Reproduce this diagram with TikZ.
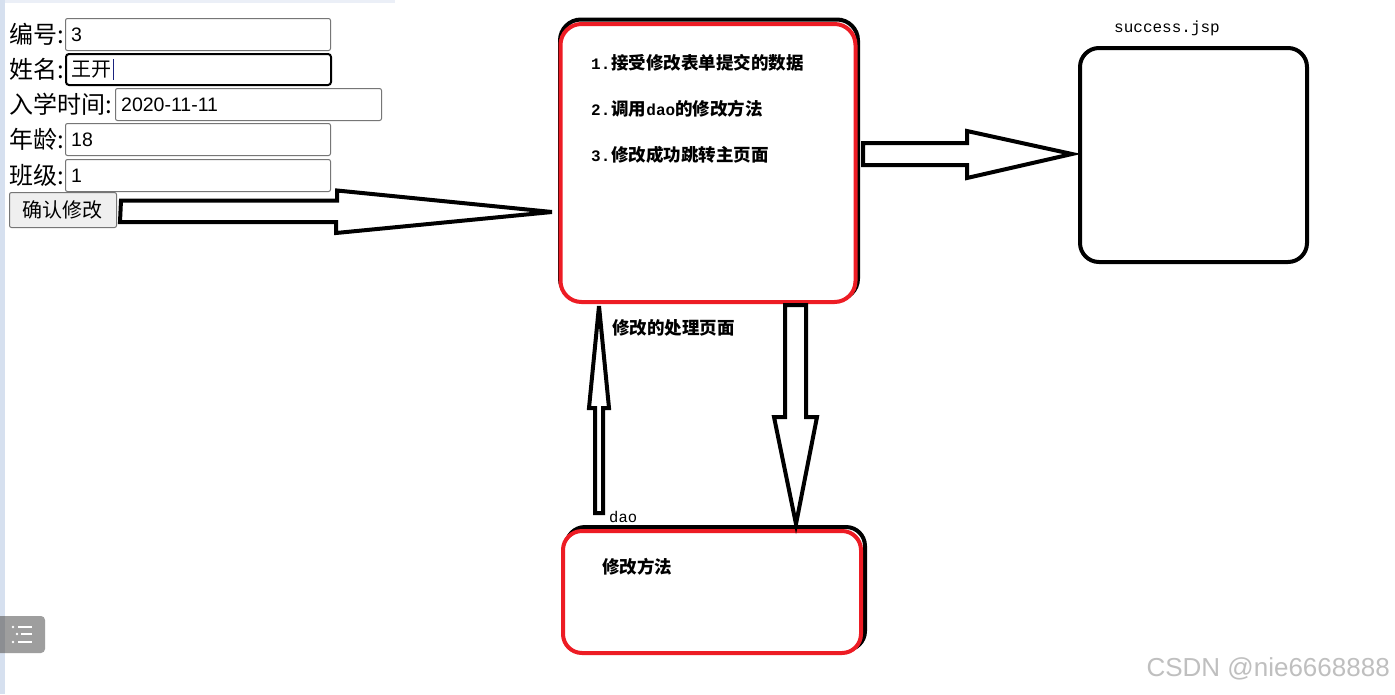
\documentclass[tikz,border=0pt]{standalone}
\usepackage{fontspec}
\setmainfont{Liberation Sans}
\newfontfamily\cjk{Noto Sans CJK SC}
\newfontfamily\monof{Liberation Mono}
\usepackage{tikz}
\usetikzlibrary{calc,positioning}
\definecolor{pntred}{HTML}{ED1C24}
\definecolor{fieldgrey}{HTML}{767676}
\definecolor{btnfill}{HTML}{EFEFEF}
\definecolor{stripblue}{HTML}{D6E0EF}
\definecolor{menugrey}{HTML}{9E9E9E}
\definecolor{caretblue}{HTML}{1A237E}

\begin{document}
\begin{tikzpicture}[x=1pt,y=-1pt,
  lbl/.style={anchor=west,inner sep=0,font=\cjk\fontsize{24}{28}\selectfont},
  field/.style={draw=fieldgrey,line width=1pt,rounded corners=2pt,fill=white,
    minimum height=32,inner sep=0,anchor=north west},
  valtxt/.style={inner sep=0,anchor=west,font=\fontsize{19.5}{23}\selectfont},
  roundbox/.style={draw=black,line width=4pt,rounded corners=21pt,fill=white,inner sep=0},
  boxtxt/.style={anchor=west,inner sep=0,font=\cjk\bfseries\fontsize{17.5}{20}\selectfont},
  monolbl/.style={anchor=west,inner sep=0,font=\monof\fontsize{16}{19}\selectfont},
  fatarrow/.style={draw=black,line width=4pt,fill=white,line join=miter}]
\fill[white] (0,0) rectangle (1395,694);
\useasboundingbox (0,0) rectangle (1395,694);
% browser frame
\fill[stripblue] (0,0) rectangle (5,694);
\fill[stripblue!50] (5,0) rectangle (395,3);
\fill[menugrey,rounded corners=4pt] (-6,616) rectangle (45,653);
\fill[menugrey!70!stripblue!80!black] (0,616) rectangle (5,653);
\foreach \yy/\xx in {627/13,634/17,642/13}
  \fill[white] (\xx,\yy) circle (1.4);
\foreach \yy/\xx in {627/18,634/21,642/18}
  \draw[white,line width=2.2pt] (\xx,\yy) -- (32,\yy);

% form
\node[lbl] (l1) at (9,34) {编号:};
\node[field,minimum width=265] (f1) at (65,18) {};
\node[valtxt,right=6pt of f1.west] (v1) {3};
\node[lbl] (l2) at (9,69) {姓名:};
\node[field,draw=black,line width=2pt,rounded corners=3pt,minimum width=265,minimum height=31] (f2) at (65,53) {};
\node[valtxt,font=\cjk\fontsize{20}{24}\selectfont,right=6pt of f2.west] (v2) {王开};
\draw[caretblue,line width=1pt] (113,59) -- (113,80);
\node[lbl] (l3) at (9,104) {入学时间:};
\node[field,minimum width=266] (f3) at (115,88) {};
\node[valtxt,right=6pt of f3.west] (v3) {2020-11-11};
\node[lbl] (l4) at (9,139) {年龄:};
\node[field,minimum width=265] (f4) at (65,123) {};
\node[valtxt,right=6pt of f4.west] (v4) {18};
\node[lbl] (l5) at (9,175) {班级:};
\node[field,minimum width=265] (f5) at (65,159) {};
\node[valtxt,right=6pt of f5.west] (v5) {1};
\node[field,fill=btnfill,minimum width=107,minimum height=35,
  font=\cjk\fontsize{20}{24}\selectfont] (btn) at (9,192) {确认修改};

% processing page
\node[roundbox,minimum width=298,minimum height=280] (procsh) at (709,159.5) {};
\node[roundbox,draw=pntred,minimum width=295,minimum height=278] (proc) at (708,163) {};
\node[boxtxt] (t1) at (591,63) {{\monof\bfseries\fontsize{16}{18}\selectfont 1.}\hspace{1pt}接受修改表单提交的数据};
\node[boxtxt] (t2) at (591,109) {{\monof\bfseries\fontsize{16}{18}\selectfont 2.}\hspace{1pt}调用{\monof\bfseries\fontsize{16}{18}\selectfont dao}的修改方法};
\node[boxtxt] (t3) at (591,155) {{\monof\bfseries\fontsize{16}{18}\selectfont 3.}\hspace{1pt}修改成功跳转主页面};
\node[boxtxt] (proclbl) at (612,328) {修改的处理页面};

% success page
\node[roundbox,minimum width=227,minimum height=214,rounded corners=19pt] (succ) at (1193.5,155) {};
\node[monolbl] (succlbl) at (1114,28) {success.jsp};

% dao
\node[roundbox,minimum width=299,minimum height=123,rounded corners=19pt] (daosh) at (715.5,588.5) {};
\node[roundbox,draw=pntred,minimum width=298,minimum height=122,rounded corners=19pt] (dao) at (712,592) {};
\node[boxtxt] (daotxt) at (602,567) {修改方法};
\node[monolbl,font=\monof\fontsize{15.5}{18}\selectfont] (daolbl) at (609,517) {dao};

% block arrows
\coordinate (a1s) at ($(btn.east)+(4,1.5)$);
\coordinate (a1t) at (552,212);
\draw[fatarrow] (a1s) ++(0,-11) -- ++(216,0) -- ++(0,-10) -- (a1t)
  -- ++(-216,21) -- ++(0,-11) -- ++(-216,0) -- cycle;
\coordinate (a2s) at (863,154);
\coordinate (a2t) at (1072,154);
\draw[fatarrow] (a2s) ++(0,-11) -- ++(104,0) -- ++(0,-12) -- (a2t)
  -- ++(-105,24) -- ++(0,-13) -- ++(-104,0) -- cycle;
\coordinate (a3s) at (796,305);
\coordinate (a3t) at (796,524);
\draw[fatarrow] (a3s) ++(-11,0) -- ++(0,112) -- ++(-11,0) -- (a3t)
  -- ++(21,-107) -- ++(-11,0) -- ++(0,-112) -- cycle;
\coordinate (a4s) at (599,513);
\coordinate (a4t) at (599,306);
\draw[fatarrow] (a4s) ++(-4,0) -- ++(0,-105) -- ++(-6,0) -- (a4t)
  -- ++(10,102) -- ++(-6,0) -- ++(0,105) -- cycle;

% watermark
\node[anchor=east,inner sep=0,text=black!25,font=\fontsize{26}{30}\selectfont] (wm) at (1390,669) {CSDN @nie6668888};
\end{tikzpicture}
\end{document}
